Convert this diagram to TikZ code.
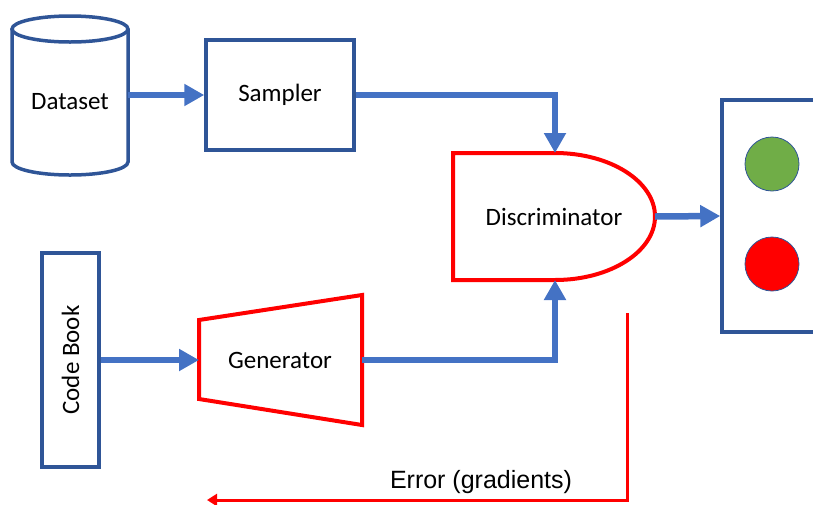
\documentclass[tikz,border=0pt]{standalone}
\usepackage{fontspec}
\setmainfont{Carlito}
\newfontfamily\arialf{Liberation Sans}
\usetikzlibrary{arrows.meta}
\definecolor{boxblue}{HTML}{2F5597}
\definecolor{arrblue}{HTML}{4472C4}
\definecolor{okgreen}{HTML}{70AD47}
\definecolor{errred}{HTML}{FF0000}
\tikzset{
  boxline/.style={draw=boxblue, line width=3.5pt},
  redline/.style={draw=errred, line width=4pt, line join=miter},
  flow/.style={draw=arrblue, line width=6.5pt, line join=miter, -{Triangle[width=21pt,length=20pt]}},
  lbl/.style={font=\fontsize{25}{30}\selectfont, inner sep=0pt},
  lamp/.style={circle, draw=boxblue, line width=0.8pt, minimum size=54pt, inner sep=0pt},
}
\begin{document}
\begin{tikzpicture}[x=1pt,y=-1pt]
\useasboundingbox (0,0) rectangle (813,504);
% Dataset cylinder
\draw[boxline] (12,29) -- (12,162) .. controls (12,169.2) and (38,175) .. (70,175)
  .. controls (102,175) and (128,169.2) .. (128,162) -- (128,29);
\draw[boxline] (70,29) ellipse[x radius=58, y radius=13];
\node[lbl] (dataset) at (70,102) {Dataset};
\coordinate (dsR) at (128,95);
% Sampler
\node[boxline, lbl, minimum width=148pt, minimum height=110pt] (sampler) at (280,95) {Sampler};
% Discriminator
\draw[redline] (453,153) -- (555,153) .. controls (610.2,153) and (655,181.4) .. (655,216.5)
  .. controls (655,251.6) and (610.2,280) .. (555,280) -- (453,280) -- cycle;
\node[lbl] (disc) at (554,217) {Discriminator};
\coordinate (discT) at (555,153);
\coordinate (discB) at (555,280);
\coordinate (discR) at (655,216.5);
% Output box
\begin{scope}
  \clip (0,0) rectangle (813,504);
  \node[boxline, minimum width=120pt, minimum height=232pt] (out) at (782,216) {};
\end{scope}
\node[lamp, fill=okgreen] (real) at (772,164) {};
\node[lamp, fill=errred] (fake) at (772,264) {};
% Code Book
\node[boxline, minimum width=57pt, minimum height=214pt] (code) at (70.5,360) {};
\node[lbl, rotate=90] (codetxt) at (code.center) {Code Book};
% Generator
\draw[redline] (199,320) -- (362,295) -- (362,425) -- (199,399) -- cycle;
\node[lbl] (gen) at (280,360) {Generator};
\coordinate (genL) at (199,360);
\coordinate (genR) at (362,360);
% Flows
\draw[flow] (dsR) -- (sampler.west);
\draw[flow] (sampler.east) -| (discT);
\draw[flow] (discR) -- (out.west);
\draw[flow] (code.east) -- (genL);
\draw[flow] (genR) -| (discB);
% Error feedback
\coordinate (errTop) at (627,313);
\coordinate (errEnd) at (207,500);
\draw[draw=errred, line width=3pt, -{Triangle[width=12pt,length=10pt]}] (errTop) |- (errEnd);
\node[font=\arialf\fontsize{25}{30}\selectfont, inner sep=0pt] (err) at (481,482) {Error (gradients)};
\end{tikzpicture}
\end{document}
